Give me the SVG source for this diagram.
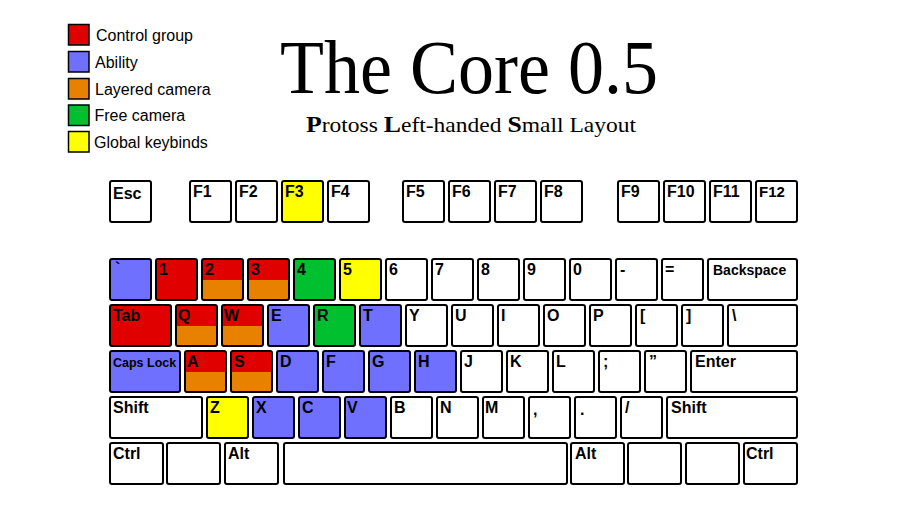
<svg xmlns="http://www.w3.org/2000/svg" width="897" height="509" viewBox="0 0 897 509">
<style>
.k{stroke:#000;stroke-width:2;fill:#fff}
.o{stroke:#000;stroke-width:2;fill:none}
.r{fill:#e00000}
.p{fill:#7070ff}
.y{fill:#ffff00}
.g{fill:#00c030}
.or{fill:#e88000}
.t{font-family:"Liberation Sans",Arial,sans-serif;font-weight:bold;font-size:16px;fill:#000}
.lg{font-family:"Liberation Sans",Arial,sans-serif;font-size:16px;fill:#000}
.sq{stroke:#000;stroke-width:1.5}
</style>
<rect width="897" height="509" fill="#fff"/>
<g id="legend">
<rect class="sq r" x="68.5" y="24.5" width="20.5" height="20.5"/><text class="lg" x="96" y="41">Control group</text>
<rect class="sq p" x="68.5" y="51.5" width="20.5" height="20.5"/><text class="lg" x="95" y="67.5">Ability</text>
<rect class="sq or" x="68.5" y="78.5" width="20.5" height="20.5"/><text class="lg" x="95" y="94.5">Layered camera</text>
<rect class="sq g" x="68.5" y="105" width="20.5" height="20.5"/><text class="lg" x="94.5" y="121">Free camera</text>
<rect class="sq y" x="68.5" y="131.5" width="20.5" height="20.5"/><text class="lg" x="94" y="147.5">Global keybinds</text>
</g>
<g id="title">
<text x="280" y="93" font-family="'Liberation Serif','Times New Roman',serif" font-size="76" textLength="378" lengthAdjust="spacingAndGlyphs">The Core 0.5</text>
<text x="306" y="131.5" font-family="'Liberation Serif','Times New Roman',serif" font-size="21" textLength="330" lengthAdjust="spacingAndGlyphs"><tspan font-weight="bold" font-size="23">P</tspan>rotoss <tspan font-weight="bold" font-size="23">L</tspan>eft-handed <tspan font-weight="bold" font-size="23">S</tspan>mall Layout</text>
</g>
<g id="frow">
<g id="key-esc"><rect class="k" x="110" y="181" width="41" height="41" rx="2"/><text class="t" x="113" y="199">Esc</text></g>
<g id="key-f1"><rect class="k" x="190" y="181" width="41" height="41" rx="2"/><text class="t" x="193" y="197">F1</text></g>
<g id="key-f2"><rect class="k" x="236" y="181" width="41" height="41" rx="2"/><text class="t" x="239" y="197">F2</text></g>
<g id="key-f3"><rect class="k y" x="282" y="181" width="41" height="41" rx="2"/><text class="t" x="285" y="197">F3</text></g>
<g id="key-f4"><rect class="k" x="328" y="181" width="41" height="41" rx="2"/><text class="t" x="331" y="197">F4</text></g>
<g id="key-f5"><rect class="k" x="403" y="181" width="41" height="41" rx="2"/><text class="t" x="406" y="197">F5</text></g>
<g id="key-f6"><rect class="k" x="449" y="181" width="41" height="41" rx="2"/><text class="t" x="452" y="197">F6</text></g>
<g id="key-f7"><rect class="k" x="495" y="181" width="41" height="41" rx="2"/><text class="t" x="498" y="197">F7</text></g>
<g id="key-f8"><rect class="k" x="541" y="181" width="41" height="41" rx="2"/><text class="t" x="544" y="197">F8</text></g>
<g id="key-f9"><rect class="k" x="618" y="181" width="41" height="41" rx="2"/><text class="t" x="621" y="197">F9</text></g>
<g id="key-f10"><rect class="k" x="664" y="181" width="41" height="41" rx="2"/><text class="t" x="667" y="197">F10</text></g>
<g id="key-f11"><rect class="k" x="710" y="181" width="41" height="41" rx="2"/><text class="t" x="713" y="197">F11</text></g>
<g id="key-f12"><rect class="k" x="756" y="181" width="41" height="41" rx="2"/><text class="t" x="759" y="197" style="font-size:15px">F12</text></g>
</g>
<g id="numrow">
<g id="key-grave"><rect class="k p" x="110" y="259" width="41" height="41" rx="2"/><text class="t" x="115" y="274">`</text></g>
<g id="key-1"><rect class="k r" x="156" y="259" width="41" height="41" rx="2"/><text class="t" x="159" y="275">1</text></g>
<g id="key-2"><rect class="r" x="202" y="259" width="41" height="21"/><rect class="or" x="202" y="280" width="41" height="20"/><rect class="o" x="202" y="259" width="41" height="41" rx="2"/><text class="t" x="205" y="275">2</text></g>
<g id="key-3"><rect class="r" x="248" y="259" width="41" height="21"/><rect class="or" x="248" y="280" width="41" height="20"/><rect class="o" x="248" y="259" width="41" height="41" rx="2"/><text class="t" x="251" y="275">3</text></g>
<g id="key-4"><rect class="k g" x="294" y="259" width="41" height="41" rx="2"/><text class="t" x="297" y="275">4</text></g>
<g id="key-5"><rect class="k y" x="340" y="259" width="41" height="41" rx="2"/><text class="t" x="343" y="275">5</text></g>
<g id="key-6"><rect class="k" x="386" y="259" width="41" height="41" rx="2"/><text class="t" x="389" y="275">6</text></g>
<g id="key-7"><rect class="k" x="432" y="259" width="41" height="41" rx="2"/><text class="t" x="435" y="275">7</text></g>
<g id="key-8"><rect class="k" x="478" y="259" width="41" height="41" rx="2"/><text class="t" x="481" y="275">8</text></g>
<g id="key-9"><rect class="k" x="524" y="259" width="41" height="41" rx="2"/><text class="t" x="527" y="275">9</text></g>
<g id="key-0"><rect class="k" x="570" y="259" width="41" height="41" rx="2"/><text class="t" x="573" y="275">0</text></g>
<g id="key-minus"><rect class="k" x="616" y="259" width="41" height="41" rx="2"/><text class="t" x="620" y="275">-</text></g>
<g id="key-equals"><rect class="k" x="662" y="259" width="41" height="41" rx="2"/><text class="t" x="665" y="275">=</text></g>
<g id="key-backspace"><rect class="k" x="708" y="259" width="89" height="41" rx="2"/><text class="t" x="713" y="275" style="font-size:14px">Backspace</text></g>
</g>
<g id="tabrow">
<g id="key-tab"><rect class="k r" x="110" y="305" width="61" height="41" rx="2"/><text class="t" x="113" y="321">Tab</text></g>
<g id="key-q"><rect class="r" x="176" y="305" width="41" height="21"/><rect class="or" x="176" y="326" width="41" height="20"/><rect class="o" x="176" y="305" width="41" height="41" rx="2"/><text class="t" x="178" y="321">Q</text></g>
<g id="key-w"><rect class="r" x="222" y="305" width="41" height="21"/><rect class="or" x="222" y="326" width="41" height="20"/><rect class="o" x="222" y="305" width="41" height="41" rx="2"/><text class="t" x="224" y="321">W</text></g>
<g id="key-e"><rect class="k p" x="268" y="305" width="41" height="41" rx="2"/><text class="t" x="271" y="321">E</text></g>
<g id="key-r"><rect class="k g" x="314" y="305" width="41" height="41" rx="2"/><text class="t" x="317" y="321">R</text></g>
<g id="key-t"><rect class="k p" x="360" y="305" width="41" height="41" rx="2"/><text class="t" x="363" y="321">T</text></g>
<g id="key-y"><rect class="k" x="406" y="305" width="41" height="41" rx="2"/><text class="t" x="409" y="321">Y</text></g>
<g id="key-u"><rect class="k" x="452" y="305" width="41" height="41" rx="2"/><text class="t" x="455" y="321">U</text></g>
<g id="key-i"><rect class="k" x="498" y="305" width="41" height="41" rx="2"/><text class="t" x="501" y="321">I</text></g>
<g id="key-o"><rect class="k" x="544" y="305" width="41" height="41" rx="2"/><text class="t" x="547" y="321">O</text></g>
<g id="key-p"><rect class="k" x="590" y="305" width="41" height="41" rx="2"/><text class="t" x="593" y="321">P</text></g>
<g id="key-lbracket"><rect class="k" x="636" y="305" width="41" height="41" rx="2"/><text class="t" x="640" y="321">[</text></g>
<g id="key-rbracket"><rect class="k" x="682" y="305" width="41" height="41" rx="2"/><text class="t" x="686" y="321">]</text></g>
<g id="key-backslash"><rect class="k" x="728" y="305" width="69" height="41" rx="2"/><text class="t" x="732" y="321">\</text></g>
</g>
<g id="capsrow">
<g id="key-caps"><rect class="k p" x="110" y="351" width="70" height="41" rx="2"/><text class="t" x="113" y="367" style="font-size:12.5px">Caps Lock</text></g>
<g id="key-a"><rect class="r" x="185" y="351" width="41" height="21"/><rect class="or" x="185" y="372" width="41" height="20"/><rect class="o" x="185" y="351" width="41" height="41" rx="2"/><text class="t" x="187" y="367">A</text></g>
<g id="key-s"><rect class="r" x="231" y="351" width="41" height="21"/><rect class="or" x="231" y="372" width="41" height="20"/><rect class="o" x="231" y="351" width="41" height="41" rx="2"/><text class="t" x="234" y="367">S</text></g>
<g id="key-d"><rect class="k p" x="277" y="351" width="41" height="41" rx="2"/><text class="t" x="280" y="367">D</text></g>
<g id="key-f"><rect class="k p" x="323" y="351" width="41" height="41" rx="2"/><text class="t" x="326" y="367">F</text></g>
<g id="key-g"><rect class="k p" x="369" y="351" width="41" height="41" rx="2"/><text class="t" x="372" y="367">G</text></g>
<g id="key-h"><rect class="k p" x="415" y="351" width="41" height="41" rx="2"/><text class="t" x="418" y="367">H</text></g>
<g id="key-j"><rect class="k" x="461" y="351" width="41" height="41" rx="2"/><text class="t" x="464" y="367">J</text></g>
<g id="key-k"><rect class="k" x="507" y="351" width="41" height="41" rx="2"/><text class="t" x="510" y="367">K</text></g>
<g id="key-l"><rect class="k" x="553" y="351" width="41" height="41" rx="2"/><text class="t" x="556" y="367">L</text></g>
<g id="key-semicolon"><rect class="k" x="599" y="351" width="41" height="41" rx="2"/><text class="t" x="603" y="367">;</text></g>
<g id="key-quote"><rect class="k" x="645" y="351" width="41" height="41" rx="2"/><text class="t" x="649" y="367">”</text></g>
<g id="key-enter"><rect class="k" x="691" y="351" width="106" height="41" rx="2"/><text class="t" x="695" y="367">Enter</text></g>
</g>
<g id="shiftrow">
<g id="key-lshift"><rect class="k" x="110" y="397" width="92" height="41" rx="2"/><text class="t" x="113" y="413">Shift</text></g>
<g id="key-z"><rect class="k y" x="207" y="397" width="41" height="41" rx="2"/><text class="t" x="210" y="413">Z</text></g>
<g id="key-x"><rect class="k p" x="253" y="397" width="41" height="41" rx="2"/><text class="t" x="256" y="413">X</text></g>
<g id="key-c"><rect class="k p" x="299" y="397" width="41" height="41" rx="2"/><text class="t" x="302" y="413">C</text></g>
<g id="key-v"><rect class="k p" x="345" y="397" width="41" height="41" rx="2"/><text class="t" x="347" y="413">V</text></g>
<g id="key-b"><rect class="k" x="391" y="397" width="41" height="41" rx="2"/><text class="t" x="394" y="413">B</text></g>
<g id="key-n"><rect class="k" x="437" y="397" width="41" height="41" rx="2"/><text class="t" x="440" y="413">N</text></g>
<g id="key-m"><rect class="k" x="483" y="397" width="41" height="41" rx="2"/><text class="t" x="485" y="413">M</text></g>
<g id="key-comma"><rect class="k" x="529" y="397" width="41" height="41" rx="2"/><text class="t" x="533" y="415">,</text></g>
<g id="key-period"><rect class="k" x="575" y="397" width="41" height="41" rx="2"/><text class="t" x="580" y="415">.</text></g>
<g id="key-slash"><rect class="k" x="621" y="397" width="41" height="41" rx="2"/><text class="t" x="625" y="413">/</text></g>
<g id="key-rshift"><rect class="k" x="667" y="397" width="130" height="41" rx="2"/><text class="t" x="671" y="413">Shift</text></g>
</g>
<g id="bottomrow">
<g id="key-lctrl"><rect class="k" x="110" y="443" width="53" height="41" rx="2"/><text class="t" x="113" y="459">Ctrl</text></g>
<g id="key-lwin"><rect class="k" x="167" y="443" width="53" height="41" rx="2"/></g>
<g id="key-lalt"><rect class="k" x="225" y="443" width="53" height="41" rx="2"/><text class="t" x="228" y="459">Alt</text></g>
<g id="key-space"><rect class="k" x="284" y="443" width="283" height="41" rx="2"/></g>
<g id="key-ralt"><rect class="k" x="571" y="443" width="53" height="41" rx="2"/><text class="t" x="575" y="459">Alt</text></g>
<g id="key-rwin"><rect class="k" x="628" y="443" width="53" height="41" rx="2"/></g>
<g id="key-menu"><rect class="k" x="686" y="443" width="53" height="41" rx="2"/></g>
<g id="key-rctrl"><rect class="k" x="744" y="443" width="53" height="41" rx="2"/><text class="t" x="746" y="459">Ctrl</text></g>
</g>
</svg>
